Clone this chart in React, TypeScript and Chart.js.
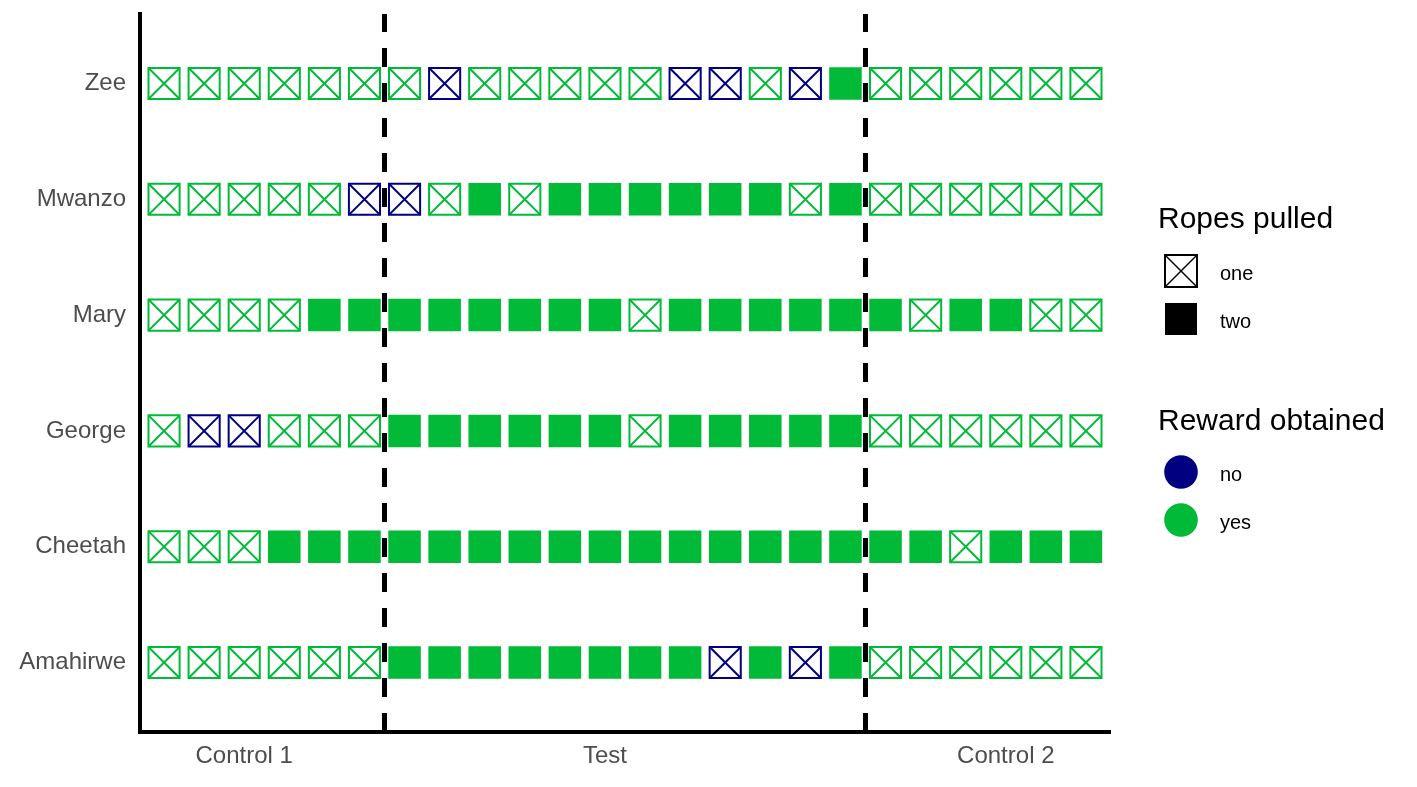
import React, { useEffect, useRef } from "react";
import { Chart, registerables } from "chart.js";

Chart.register(...registerables);

// ---------- data ----------
const subjects = ["Amahirwe", "Cheetah", "George", "Mary", "Mwanzo", "Zee"]; // bottom -> top
const trials = [1, 2, 3, 4, 5, 6, 7, 8, 9, 10, 11, 12, 13, 14, 15, 16, 17, 18, 19, 20, 21, 22, 23, 24];
const phaseLabels = ["Control 1", "Test", "Control 2"];
const phaseTickTrials = [3, 12, 22];
const phaseBoundaries = [6.5, 18.5];
const ropeLabels = ["one", "two"];
const rewardLabels = ["no", "yes"];

// ropes pulled: 1 = one, 2 = two ; reward: 0 = no, 1 = yes
const ropesAmahirwe = [1, 1, 1, 1, 1, 1, 2, 2, 2, 2, 2, 2, 2, 2, 1, 2, 1, 2, 1, 1, 1, 1, 1, 1];
const rewardAmahirwe = [1, 1, 1, 1, 1, 1, 1, 1, 1, 1, 1, 1, 1, 1, 0, 1, 0, 1, 1, 1, 1, 1, 1, 1];
const ropesCheetah = [1, 1, 1, 2, 2, 2, 2, 2, 2, 2, 2, 2, 2, 2, 2, 2, 2, 2, 2, 2, 1, 2, 2, 2];
const rewardCheetah = [1, 1, 1, 1, 1, 1, 1, 1, 1, 1, 1, 1, 1, 1, 1, 1, 1, 1, 1, 1, 1, 1, 1, 1];
const ropesGeorge = [1, 1, 1, 1, 1, 1, 2, 2, 2, 2, 2, 2, 1, 2, 2, 2, 2, 2, 1, 1, 1, 1, 1, 1];
const rewardGeorge = [1, 0, 0, 1, 1, 1, 1, 1, 1, 1, 1, 1, 1, 1, 1, 1, 1, 1, 1, 1, 1, 1, 1, 1];
const ropesMary = [1, 1, 1, 1, 2, 2, 2, 2, 2, 2, 2, 2, 1, 2, 2, 2, 2, 2, 2, 1, 2, 2, 1, 1];
const rewardMary = [1, 1, 1, 1, 1, 1, 1, 1, 1, 1, 1, 1, 1, 1, 1, 1, 1, 1, 1, 1, 1, 1, 1, 1];
const ropesMwanzo = [1, 1, 1, 1, 1, 1, 1, 1, 2, 1, 2, 2, 2, 2, 2, 2, 1, 2, 1, 1, 1, 1, 1, 1];
const rewardMwanzo = [1, 1, 1, 1, 1, 0, 0, 1, 1, 1, 1, 1, 1, 1, 1, 1, 1, 1, 1, 1, 1, 1, 1, 1];
const ropesZee = [1, 1, 1, 1, 1, 1, 1, 1, 1, 1, 1, 1, 1, 1, 1, 1, 1, 2, 1, 1, 1, 1, 1, 1];
const rewardZee = [1, 1, 1, 1, 1, 1, 1, 0, 1, 1, 1, 1, 1, 0, 0, 1, 0, 1, 1, 1, 1, 1, 1, 1];

const ropesBySubject = [ropesAmahirwe, ropesCheetah, ropesGeorge, ropesMary, ropesMwanzo, ropesZee];
const rewardBySubject = [rewardAmahirwe, rewardCheetah, rewardGeorge, rewardMary, rewardMwanzo, rewardZee];

// ---------- styles ----------
const GREEN = "#00BA38";
const NAVY = "#000080";
const TICK_COLOR = "#4D4D4D";
const FONT = "'Liberation Sans', Arial, Helvetica, sans-serif";

type Pt = { x: number; y: number; reward: number };

function buildPoints(ropes: number): Pt[] {
  const pts: Pt[] = [];
  subjects.forEach((_, si) => {
    trials.forEach((t, ti) => {
      if (ropesBySubject[si][ti] === ropes) {
        pts.push({ x: t, y: si + 1, reward: rewardBySubject[si][ti] });
      }
    });
  });
  return pts;
}

const colorOf = (r: number) => (r === 1 ? GREEN : NAVY);

export default function App() {
  const canvasRef = useRef<HTMLCanvasElement | null>(null);

  useEffect(() => {
    const canvas = canvasRef.current;
    if (!canvas) return;
    const onePts = buildPoints(1);
    const twoPts = buildPoints(2);

    const dashed = phaseBoundaries.map((b) => ({
      type: "line" as const,
      data: [
        { x: b, y: 0.4 },
        { x: b, y: 6.6 },
      ],
      borderColor: "#000",
      borderWidth: 5,
      borderDash: [19, 16],
      pointRadius: 0,
      fill: false,
      showLine: true,
    }));

    const chart = new Chart(canvas, {
      type: "scatter",
      data: {
        datasets: [
          ...dashed,
          {
            data: onePts,
            pointStyle: "crossRot",
            pointRadius: 22,
            pointBorderWidth: 2,
            pointBorderColor: onePts.map((p) => colorOf(p.reward)),
            pointBackgroundColor: "rgba(0,0,0,0)",
          },
          {
            data: onePts,
            pointStyle: "rect",
            pointRadius: 22,
            pointBorderWidth: 2,
            pointBorderColor: onePts.map((p) => colorOf(p.reward)),
            pointBackgroundColor: "rgba(0,0,0,0)",
          },
          {
            data: twoPts,
            pointStyle: "rect",
            pointRadius: 23,
            pointBorderWidth: 0,
            pointBorderColor: "rgba(0,0,0,0)",
            pointBackgroundColor: twoPts.map((p) => colorOf(p.reward)),
          },
        ] as any,
      },
      options: {
        responsive: false,
        animation: false,
        devicePixelRatio: 1,
        layout: { autoPadding: false, padding: { left: 0, top: 14, right: 307, bottom: 0 } },
        plugins: { legend: { display: false }, tooltip: { enabled: false } },
        events: [],
        scales: {
          x: {
            type: "linear",
            min: 0.4,
            max: 24.6,
            grid: { display: false, drawTicks: false },
            border: { display: true, color: "#000", width: 4 },
            afterBuildTicks: (scale: any) => {
              scale.ticks = phaseTickTrials.map((v) => ({ value: v }));
            },
            afterFit: (scale: any) => {
              scale.height = 55;
              scale.paddingLeft = 0;
              scale.paddingRight = 0;
            },
            ticks: {
              padding: 10,
              color: TICK_COLOR,
              font: { family: FONT, size: 24 },
              maxRotation: 0,
              autoSkip: false,
              callback: (v: any) => phaseLabels[phaseTickTrials.indexOf(Number(v))] ?? "",
            },
          },
          y: {
            type: "linear",
            min: 0.4,
            max: 6.6,
            grid: { display: false, drawTicks: false },
            border: { display: true, color: "#000", width: 4 },
            afterBuildTicks: (scale: any) => {
              scale.ticks = subjects.map((_, i) => ({ value: i + 1 }));
            },
            afterFit: (scale: any) => {
              scale.width = 140;
              scale.paddingTop = 0;
              scale.paddingBottom = 0;
            },
            ticks: {
              padding: 14,
              color: TICK_COLOR,
              font: { family: FONT, size: 24 },
              autoSkip: false,
              callback: (v: any) => subjects[Number(v) - 1] ?? "",
            },
          },
        },
      } as any,
    });
    return () => chart.destroy();
  }, []);

  const legendTitle: React.CSSProperties = {
    position: "absolute",
    left: 1158,
    fontFamily: FONT,
    fontSize: 30,
    lineHeight: "30px",
    color: "#000",
    whiteSpace: "nowrap",
  };
  const legendText = (centerY: number): React.CSSProperties => ({
    position: "absolute",
    left: 1220,
    top: centerY - 10,
    fontFamily: FONT,
    fontSize: 20,
    lineHeight: "20px",
    color: "#000",
    whiteSpace: "nowrap",
  });
  const symbolBox = (centerY: number): React.CSSProperties => ({
    position: "absolute",
    left: 1164,
    top: centerY - 17,
    width: 34,
    height: 34,
  });

  return (
    <div style={{ position: "absolute", left: 0, top: 0, width: 1417, height: 787, background: "#fff", overflow: "hidden" }}>
      <canvas ref={canvasRef} width={1417} height={787} style={{ position: "absolute", left: 0, top: 0, width: 1417, height: 787 }} />
      <div style={{ ...legendTitle, top: 203 }}>Ropes pulled</div>
      <svg style={symbolBox(271)} width={34} height={34} viewBox="0 0 34 34">
        <rect x={1} y={1} width={32} height={32} fill="none" stroke="#000" strokeWidth={2} />
        <line x1={1} y1={1} x2={33} y2={33} stroke="#000" strokeWidth={1.5} />
        <line x1={33} y1={1} x2={1} y2={33} stroke="#000" strokeWidth={1.5} />
      </svg>
      <div style={legendText(273)}>{ropeLabels[0]}</div>
      <svg style={symbolBox(319)} width={34} height={34} viewBox="0 0 34 34">
        <rect x={1} y={1} width={32} height={32} fill="#000" />
      </svg>
      <div style={legendText(321)}>{ropeLabels[1]}</div>

      <div style={{ ...legendTitle, top: 405 }}>Reward obtained</div>
      <svg style={symbolBox(472)} width={34} height={34} viewBox="0 0 34 34">
        <circle cx={17} cy={17} r={16.8} fill={NAVY} />
      </svg>
      <div style={legendText(474)}>{rewardLabels[0]}</div>
      <svg style={symbolBox(520)} width={34} height={34} viewBox="0 0 34 34">
        <circle cx={17} cy={17} r={16.8} fill={GREEN} />
      </svg>
      <div style={legendText(522)}>{rewardLabels[1]}</div>
    </div>
  );
}
